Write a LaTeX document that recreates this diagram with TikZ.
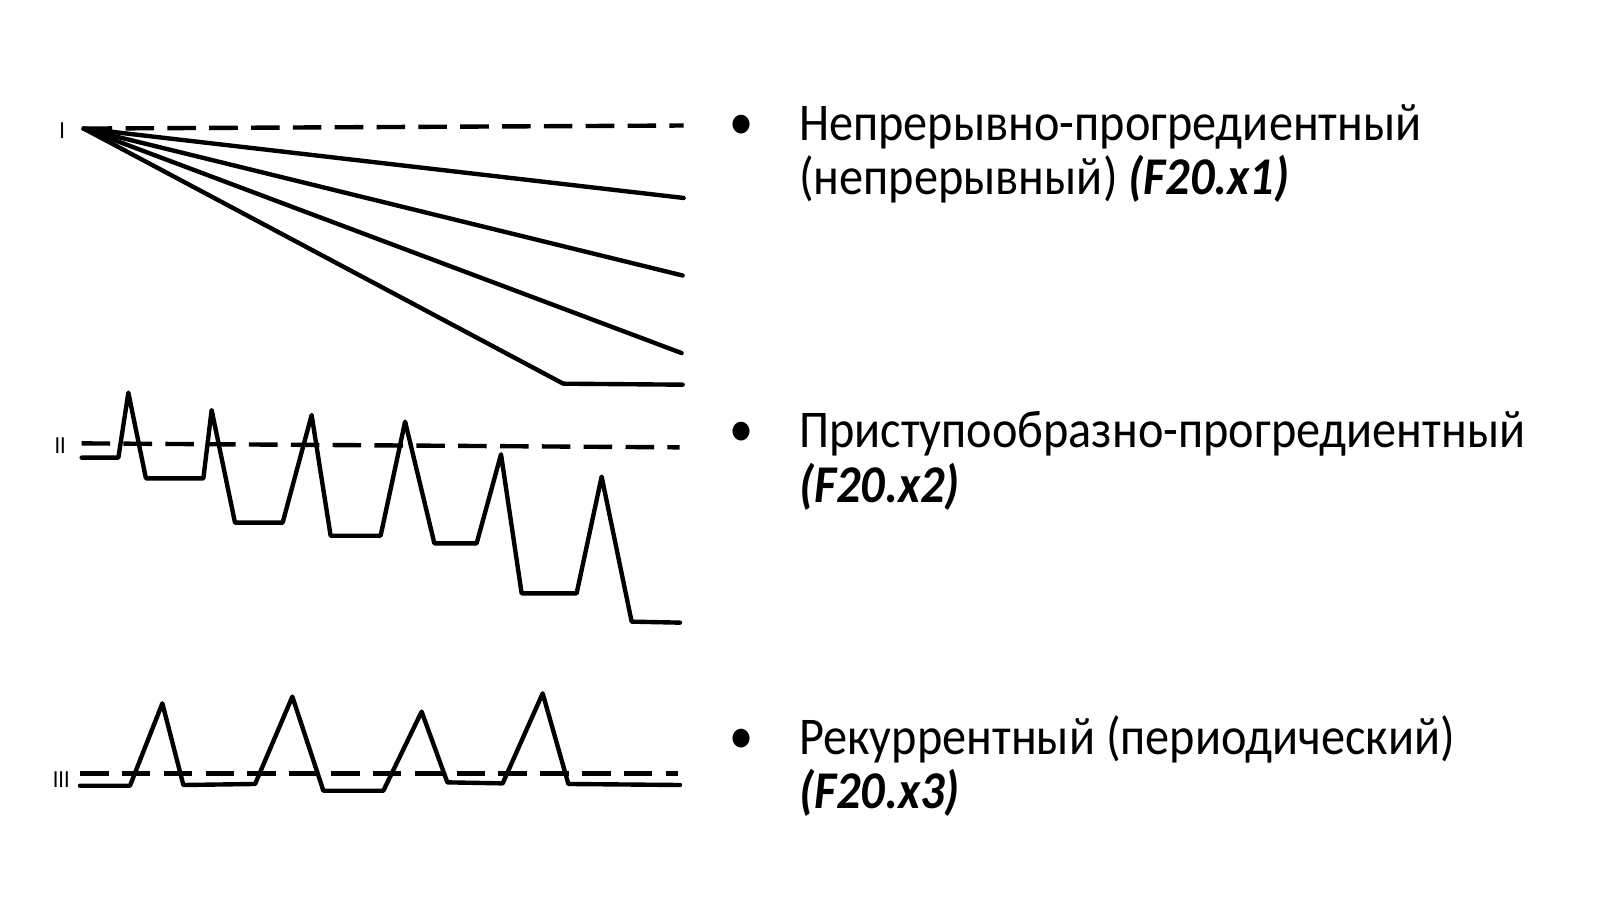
\documentclass[tikz,border=0pt]{standalone}
\usepackage{fontspec}
\setmainfont{Carlito}[FakeStretch=0.91]
\usetikzlibrary{positioning}
\tikzset{
  curve/.style={line width=4.3pt, line join=round, line cap=round},
  norm/.style={line width=4.3pt, dash pattern=on 28pt off 13pt},
  item/.style={inner sep=0pt, font=\fontsize{52}{53}\selectfont},
  roman/.style={inner sep=0pt, font=\fontsize{24}{24}\selectfont},
}
\begin{document}
\begin{tikzpicture}[x=1pt, y=-1pt]
  \useasboundingbox (0,0) rectangle (1568,896);
  % type I
  \coordinate (o1) at (82,126);
  \node[roman] (r1) at (61,128) {I};
  \draw[norm] (o1) -- (670,123);
  \draw[curve] (o1) -- (670,194);
  \draw[curve] (o1) -- (669,270);
  \draw[curve] (o1) -- (668,346);
  \draw[curve] (o1) -- (552,376) -- (669,377);
  % type II
  \node[roman] (r2) at (59,437) {II};
  \draw[norm] (80,434.5) -- (666,438.4);
  \draw[curve] (80,448.5) -- (116,448.5) -- (125.8,384.8) -- (143,468.8)
    -- (199.3,468.8) -- (207.4,401.8) -- (230.3,512.2) -- (277,512.2)
    -- (305.4,406.7) -- (324,525) -- (373,525) -- (397,413.2)
    -- (425.7,532.5) -- (467.1,532.5) -- (491,445.2) -- (511.2,581.5)
    -- (565.1,581.5) -- (589.6,467.1) -- (619,609.2) -- (666.4,610.2);
  % type III
  \node[roman] (r3) at (60,764.5) {III};
  \draw[norm] (78.4,757.9) -- (664.8,757.9);
  \draw[curve] (78.4,770) -- (127.4,770) -- (159.1,689.3) -- (179.7,769.3)
    -- (250,768.3) -- (286.5,682.7) -- (316.9,774.9) -- (375.7,774.9)
    -- (413.2,697.4) -- (438.4,766.7) -- (492.6,767.7) -- (531.8,679.5)
    -- (557,768.3) -- (666.4,769.3);
  % legend
  \node[item, anchor=base] (b1) at (727,137) {•};
  \node[item, anchor=base west] (t1) at (783,138) {Непрерывно-прогредиентный};
  \node[item, anchor=base west, yshift=-53pt] (t1b) at (t1.base west) {(непрерывный) \textbf{\textit{(F20.x1)}}};
  \node[item, anchor=base] (b2) at (727,438) {•};
  \node[item, anchor=base west] (t2) at (783,439) {Приступообразно-прогредиентный};
  \node[item, anchor=base west, yshift=-53pt] (t2b) at (t2.base west) {\textbf{\textit{(F20.x2)}}};
  \node[item, anchor=base] (b3) at (727,738) {•};
  \node[item, anchor=base west] (t3) at (783,739) {Рекуррентный (периодический)};
  \node[item, anchor=base west, yshift=-53pt] (t3b) at (t3.base west) {\textbf{\textit{(F20.x3)}}};
\end{tikzpicture}
\end{document}
